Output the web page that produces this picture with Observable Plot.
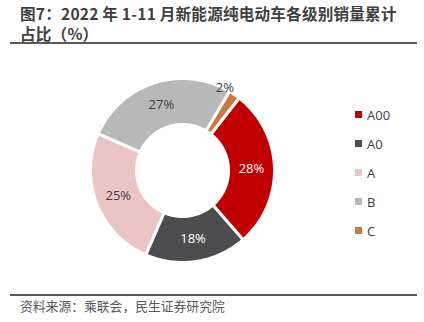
<!DOCTYPE html>
<html>
<head>
<meta charset="utf-8">
<script src="https://cdn.jsdelivr.net/npm/d3@7"></script>
<script src="https://cdn.jsdelivr.net/npm/@observablehq/plot@0.6"></script>
<style>
  html, body { margin: 0; padding: 0; background: #fff; }
  #wrap { position: relative; width: 424px; height: 322px; overflow: hidden; font-family: "Noto Sans CJK SC", "Noto Sans", sans-serif; }
  .title { position: absolute; left: 20px; font-size: 15.6px; height: 20px; line-height: 20px; font-weight: bold; color: #404040; white-space: nowrap; letter-spacing: 0.2px; overflow: visible; }
  #t1 { top: 3px; }
  #t2 { top: 23px; }
  #rule1 { position: absolute; left: 10px; top: 42px; width: 407px; height: 2px; background: #595959; }
  #rule2 { position: absolute; left: 10px; top: 294px; width: 407px; height: 1.5px; background: #595959; }
  #source { position: absolute; left: 20px; top: 297px; font-size: 12.8px; line-height: 18px; color: #595959; white-space: nowrap; }
  #chart { position: absolute; left: 0; top: 46px; }
  #legend { position: absolute; left: 355px; top: 100px; font-family: "Open Sans", "DejaVu Sans", sans-serif; font-size: 13px; color: #404040; }
  .item { display: flex; align-items: center; height: 29px; }
  .sw { width: 7px; height: 7px; margin-right: 5px; }
</style>
</head>
<body>
<div id="wrap">
  <div class="title" id="t1">图7：2022 年 1-11 月新能源纯电动车各级别销量累计</div>
  <div class="title" id="t2">占比（%）</div>
  <div id="rule1"></div>
  <div id="chart"></div>
  <div id="legend"></div>
  <div id="rule2"></div>
  <div id="source">资料来源：乘联会，民生证券研究院</div>
</div>
<script>
const categories = ["A00", "A0", "A", "B", "C"];
const shares = [28, 18, 25, 27, 2];
const labels = ["28%", "18%", "25%", "27%", "2%"];

// styles
const colors = ["#C00000", "#4D4D4F", "#EBC4C4", "#B8B8B8", "#C87A40"];
const whiteLabel = ["A00", "A0"];
const startDeg = 38;
const innerR = 0.5;

const total = d3.sum(shares);
const start = startDeg * Math.PI / 180;
const pts = [];
const labelData = [];
let cum = 0;
categories.forEach((cat, i) => {
  const a0 = start + cum / total * 2 * Math.PI;
  cum += shares[i];
  const a1 = start + cum / total * 2 * Math.PI;
  const n = Math.max(4, Math.ceil((a1 - a0) / 0.02));
  for (let k = 0; k <= n; k++) {
    const a = a0 + (a1 - a0) * k / n;
    pts.push({cat, x: Math.sin(a), y: Math.cos(a)});
  }
  for (let k = n; k >= 0; k--) {
    const a = a0 + (a1 - a0) * k / n;
    pts.push({cat, x: innerR * Math.sin(a), y: innerR * Math.cos(a)});
  }
  const small = shares[i] / total < 0.05;
  const am = small ? a0 : (a0 + a1) / 2;
  const r = small ? 1.05 : 0.75;
  labelData.push({cat, text: labels[i], x: r * Math.sin(am), y: r * Math.cos(am), small});
});

const plot = Plot.plot({
  width: 424,
  height: 248,
  marginLeft: 90,
  marginRight: 150,
  marginTop: 32,
  marginBottom: 32,
  x: {domain: [-1, 1], axis: null},
  y: {domain: [-1, 1], axis: null},
  color: {domain: categories, range: colors},
  style: {fontFamily: "'Open Sans', 'DejaVu Sans', sans-serif", overflow: "visible"},
  marks: [
    Plot.line(pts, {x: "x", y: "y", z: "cat", fill: "cat", stroke: "white", strokeWidth: 3, curve: "linear-closed"}),
    Plot.text(labelData.filter(d => whiteLabel.includes(d.cat)), {x: "x", y: "y", text: "text", fill: "white", fontSize: 13}),
    Plot.text(labelData.filter(d => !whiteLabel.includes(d.cat) && !d.small), {x: "x", y: "y", text: "text", fill: "#404040", fontSize: 13}),
    Plot.text(labelData.filter(d => d.small), {x: "x", y: "y", text: "text", fill: "#404040", fontSize: 13, textAnchor: "end", dx: 2})
  ]
});
document.getElementById("chart").appendChild(plot);

const legend = document.getElementById("legend");
categories.forEach((c, i) => {
  const it = document.createElement("div");
  it.className = "item";
  const sw = document.createElement("span");
  sw.className = "sw";
  sw.style.background = colors[i];
  const t = document.createElement("span");
  t.textContent = c;
  it.appendChild(sw);
  it.appendChild(t);
  legend.appendChild(it);
});
</script>
</body>
</html>
